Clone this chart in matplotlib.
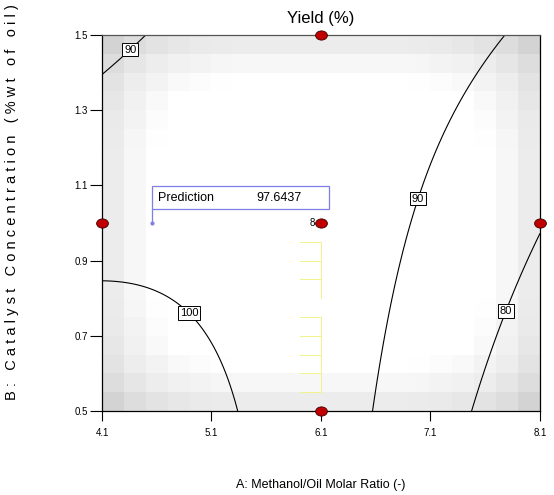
import numpy as np
import matplotlib
matplotlib.use("Agg")
import matplotlib.pyplot as plt
from matplotlib.path import Path
from matplotlib.transforms import Affine2D
from matplotlib.patches import Rectangle

plt.rcParams['font.family'] = ['Liberation Sans', 'DejaVu Sans']

# ---------------- data ----------------
x_ticks = [4.1, 5.1, 6.1, 7.1, 8.1]
y_ticks = [0.5, 0.7, 0.9, 1.1, 1.3, 1.5]
contour_levels = [80, 90, 100]

# points lying on the contour lines (x, y, level) + the flagged prediction
anchor_x = [4.10, 4.514, 7.780, 6.928, 6.974, 6.572, 5.330, 4.10, 4.916, 7.485, 8.10, 7.765, 4.557]
anchor_y = [1.398, 1.50, 1.50, 1.00, 1.066, 0.50, 0.50, 0.840, 0.767, 0.50, 0.962, 0.769, 1.00]
anchor_z = [90, 90, 90, 90, 90, 90, 100, 100, 100, 80, 80, 80, 97.6437]

# contour label positions
label_x = [4.325, 6.974, 4.916, 7.765]
label_y = [1.471, 1.066, 0.767, 0.769]

# design points shown (red dots) and replicate count at centre
point_x = [6.1, 4.1, 6.1, 8.1, 6.1]
point_y = [1.5, 1.0, 1.0, 1.0, 0.5]
center_reps = 8
# full face-centred design used for the standard-error shading
design_x = [4.1, 8.1, 4.1, 8.1, 4.1, 8.1, 6.1, 6.1] + [6.1] * center_reps
design_y = [0.5, 0.5, 1.5, 1.5, 1.0, 1.0, 0.5, 1.5] + [1.0] * center_reps

pred_x, pred_y, pred_value = 4.557, 1.0, 97.6437

# faint yellow artefact marks
yel_ticks = [0.95, 0.90, 0.85, 0.75, 0.70, 0.65, 0.60, 0.55]

# ---------------- model ----------------
def coded(x, y):
    return (np.asarray(x) - 6.1) / 2.0, (np.asarray(y) - 1.0) / 0.5

def terms(a, b):
    a = np.asarray(a, float); b = np.asarray(b, float)
    return np.stack([np.ones_like(a), a, b, a * b, a * a, b * b], axis=-1)

aa, bb = coded(anchor_x, anchor_y)
coef, *_ = np.linalg.lstsq(terms(aa, bb), np.array(anchor_z), rcond=None)

fig = plt.figure(figsize=(5.54, 4.95), dpi=100)
ax = fig.add_axes([102 / 554, 84 / 495, 438 / 554, 376 / 495])
ax.set_xlim(4.1, 8.1)
ax.set_ylim(0.5, 1.5)

# shading from prediction variance of the design
da, db = coded(design_x, design_y)
XtX_inv = np.linalg.inv(terms(da, db).T @ terms(da, db))
n = 20
ca = -1 + (np.arange(n) + 0.5) * 2 / n
CA, CB = np.meshgrid(ca, ca)
F = terms(CA, CB)
V = np.einsum('ijk,kl,ijl->ij', F, XtX_inv, F)
vlo = np.quantile(V, 0.55)
t = np.clip((V - vlo) / (V.max() - vlo), 0, 1)
shade = 1 - 0.17 * t ** 0.9
ax.imshow(shade, cmap='gray', vmin=0, vmax=1, extent=[4.1, 8.1, 0.5, 1.5],
          origin='lower', aspect='auto', interpolation='nearest', zorder=0)

# contours
gx = np.linspace(4.1, 8.1, 301)
gy = np.linspace(0.5, 1.5, 301)
GX, GY = np.meshgrid(gx, gy)
GA, GB = coded(GX, GY)
Z = terms(GA, GB) @ coef
cs = ax.contour(GX, GY, Z, levels=contour_levels, colors='black', linewidths=0.8, zorder=2)
labs = ax.clabel(cs, contour_levels, manual=list(zip(label_x, label_y)), inline=False,
                 fmt='%d', fontsize=8)
for tx in labs:
    tx.set_rotation(0)
    tx.set_bbox(dict(boxstyle='square,pad=0.15', fc='white', ec='black', lw=0.7))
    tx.set_zorder(5)

# yellow artefact
ycol = '#f3f38a'
ax.plot([6.1, 6.1], [0.80, 0.95], color=ycol, lw=0.7, zorder=1)
ax.plot([6.1, 6.1], [0.55, 0.75], color=ycol, lw=0.7, zorder=1)
for yv in yel_ticks:
    ax.plot([5.908, 6.1], [yv, yv], color=ycol, lw=0.7, zorder=1)

# design points
ell = Path.unit_circle().transformed(Affine2D().scale(1.0, 0.78))
ax.plot(point_x, point_y, linestyle='none', marker=ell, markersize=8.5,
        markerfacecolor='#c00000', markeredgecolor='#3a0000', markeredgewidth=0.6,
        clip_on=False, zorder=6)
ax.annotate(str(center_reps), (6.1, 1.0), xytext=(-4, 0), textcoords='offset points',
            ha='right', va='center', fontsize=7)

# prediction flag
fcol = '#7f7fe6'
box_h = 0.061
box_w = 1.616
box_y0 = 1.037
ax.plot([pred_x, pred_x], [pred_y, box_y0], color=fcol, lw=0.9, zorder=4)
ax.plot([pred_x], [pred_y], marker='o', markersize=2, color=fcol, zorder=4)
ax.add_patch(Rectangle((pred_x, box_y0), box_w, box_h, fc='white', ec=fcol, lw=0.9, zorder=4))
ax.text(pred_x + 0.055, box_y0 + box_h / 2, 'Prediction', fontsize=9, va='center', ha='left', zorder=5)
ax.text(5.513, box_y0 + box_h / 2, f'{pred_value:.4f}', fontsize=9, va='center', ha='left', zorder=5)

# axes styling
ax.set_xticks(x_ticks)
ax.set_xticklabels([f'{v:.1f}' for v in x_ticks])
ax.set_yticks(y_ticks)
ax.set_yticklabels([f'{v:.1f}' for v in y_ticks])
ax.tick_params(axis='x', direction='out', length=7, width=0.8, labelsize=7, pad=5)
ax.tick_params(axis='y', direction='out', length=8.6, width=0.8, labelsize=7, pad=1.5)
for s in ['left', 'bottom', 'right']:
    ax.spines[s].set_color('black')
    ax.spines[s].set_linewidth(0.9)
ax.spines['top'].set_color('#555555')
ax.spines['top'].set_linewidth(0.9)

ax.set_title('Yield (%)', fontsize=12, pad=9)
fig.text(321 / 554, 1 - 485 / 495, 'A: Methanol/Oil Molar Ratio (-)', ha='center', va='center', fontsize=9)
ylab = 'B: Catalyst Concentration (%wt of oil)'
fig.text(12 / 554, 1 - 202 / 495, ' '.join(ylab), rotation=90, ha='center', va='center', fontsize=10.5)

fig.savefig('out.png', dpi=100)
